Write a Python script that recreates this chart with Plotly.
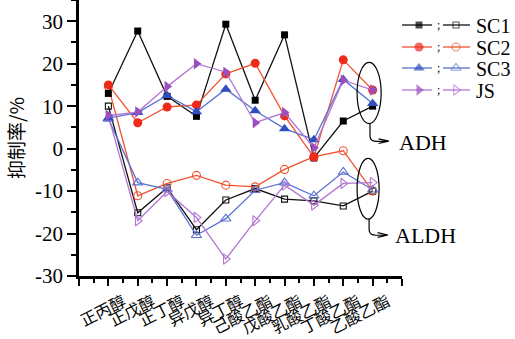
import plotly.graph_objects as go

categories = ["正丙醇", "正戊醇", "正丁醇", "异戊醇", "异丁醇",
              "己酸乙酯", "戊酸乙酯", "乳酸乙酯", "丁酸乙酯", "乙酸乙酯"]
series_names = ["SC1", "SC2", "SC3", "JS"]

# ADH inhibition (filled markers)
adh_sc1 = [13.0, 27.7, 12.3, 7.6, 29.3, 11.4, 26.8, -2.2, 6.5, 10.0]
adh_sc2 = [15.0, 6.1, 9.8, 10.3, 17.6, 20.1, 7.7, -2.0, 20.9, 13.8]
adh_sc3 = [7.2, 8.5, 12.5, 8.7, 14.0, 8.9, 4.7, 2.1, 16.3, 10.6]
adh_js = [7.8, 8.6, 14.6, 20.0, 18.0, 6.1, 8.5, 0.2, 16.1, 13.8]

# ALDH inhibition (open markers)
aldh_sc1 = [10.0, -15.1, -9.2, -19.1, -12.1, -9.4, -11.9, -12.3, -13.5, -10.0]
aldh_sc2 = [14.6, -11.1, -8.2, -6.3, -8.6, -9.0, -4.9, -1.9, -0.5, -10.0]
aldh_sc3 = [7.0, -8.0, -9.6, -20.4, -16.5, -9.8, -8.0, -11.1, -5.5, -9.7]
aldh_js = [7.7, -17.0, -10.1, -16.2, -26.0, -17.0, -8.6, -13.3, -8.2, -8.0]

y_ticks = [-30, -20, -10, 0, 10, 20, 30]

adh = [adh_sc1, adh_sc2, adh_sc3, adh_js]
aldh = [aldh_sc1, aldh_sc2, aldh_sc3, aldh_js]

line_colors = ["#111111", "#F0522E", "#5A72D0", "#B276D2"]
marker_colors = ["#000000", "#EE2A1B", "#2F4FBF", "#9B4FBF"]
filled_symbols = ["square", "circle", "triangle-up", "triangle-right"]
open_symbols = ["square-open", "circle-open", "triangle-up-open", "triangle-right-open"]
marker_sizes = [7, 9, 10, 10]

x_pos = list(range(1, len(categories) + 1))

SERIF = "Liberation Serif, Times New Roman, serif"
CJK = "Noto Sans CJK SC, sans-serif"

fig = go.Figure()

for k in range(len(series_names)):
    fig.add_trace(go.Scatter(
        x=x_pos, y=aldh[k], mode="lines+markers",
        line=dict(color=line_colors[k], width=1.3),
        marker=dict(symbol=open_symbols[k], size=marker_sizes[k] - 1,
                    color=line_colors[k], line=dict(width=1.1, color=line_colors[k])),
        showlegend=False, cliponaxis=False))
for k in range(len(series_names)):
    fig.add_trace(go.Scatter(
        x=x_pos, y=adh[k], mode="lines+markers",
        line=dict(color=line_colors[k], width=1.3),
        marker=dict(symbol=filled_symbols[k], size=marker_sizes[k],
                    color=marker_colors[k], line=dict(width=0)),
        showlegend=False, cliponaxis=False))

# custom legend drawn in an inset axis (pixel-like units)
leg_rows = [25, 47, 68, 90]
for k in range(len(series_names)):
    yr = leg_rows[k]
    fig.add_trace(go.Scatter(
        x=[0, 17, 30], y=[yr, yr, yr], xaxis="x2", yaxis="y2",
        mode="lines+markers",
        line=dict(color=line_colors[k], width=1.3),
        marker=dict(symbol=filled_symbols[k], size=[0, marker_sizes[k], 0],
                    color=marker_colors[k], line=dict(width=0)),
        showlegend=False, hoverinfo="skip"))
    fig.add_trace(go.Scatter(
        x=[41, 54, 68], y=[yr, yr, yr], xaxis="x2", yaxis="y2",
        mode="lines+markers",
        line=dict(color=line_colors[k], width=1.3),
        marker=dict(symbol=open_symbols[k], size=[0, marker_sizes[k] - 1, 0],
                    color=line_colors[k], line=dict(width=1.1, color=line_colors[k])),
        showlegend=False, hoverinfo="skip"))
    fig.add_annotation(x=36, y=yr, xref="x2", yref="y2", text=";", showarrow=False,
                       font=dict(family=SERIF, size=12, color="#000"))
    fig.add_annotation(x=72, y=yr + 1, xref="x2", yref="y2", text=series_names[k],
                       showarrow=False, xanchor="left", yanchor="middle",
                       font=dict(family=SERIF, size=20, color="#000"))

# ellipses and connectors
fig.add_shape(type="circle", xref="x", yref="y", x0=9.47, x1=10.29, y0=5.9, y1=20.3,
              line=dict(color="#000", width=1.2))
fig.add_shape(type="circle", xref="x", yref="y", x0=9.47, x1=10.22, y0=-16.6, y1=-2.3,
              line=dict(color="#000", width=1.2))
fig.add_shape(type="path", xref="x", yref="y",
              path="M 9.91,5.9 L 9.91,3.0 Q 9.91,1.7 10.15,1.7 L 10.5,1.7 M 10.2,2.3 L 10.55,1.75 L 10.2,1.2",
              line=dict(color="#000", width=1.2))
fig.add_shape(type="path", xref="x", yref="y",
              path="M 9.88,-16.6 L 9.88,-19.1 Q 9.88,-20.4 10.12,-20.4 L 10.47,-20.4 M 10.17,-19.8 L 10.52,-20.35 L 10.17,-20.9",
              line=dict(color="#000", width=1.2))
fig.add_annotation(x=10.82, y=1.4, xref="x", yref="y", text="ADH", showarrow=False,
                   xanchor="left", font=dict(family=SERIF, size=22, color="#000"))
fig.add_annotation(x=10.68, y=-20.5, xref="x", yref="y", text="ALDH", showarrow=False,
                   xanchor="left", font=dict(family=SERIF, size=22, color="#000"))

plot_w = 323.0
paper_w = 515 - 79

fig.update_layout(
    width=515, height=339,
    margin=dict(l=79, r=0, t=0, b=63, autoexpand=False),
    paper_bgcolor="white", plot_bgcolor="white",
    font=dict(family=SERIF, color="#000"),
    xaxis=dict(
        domain=[0, plot_w / paper_w],
        range=[0, len(categories) + 1],
        automargin=False,
        tickmode="array",
        tickvals=list(range(0, len(categories) + 2)),
        ticktext=[""] + categories + [""],
        tickangle=-27,
        tickfont=dict(family=CJK, size=16, color="#000"),
        ticklabelshift=15, ticklabelstandoff=1,
        ticks="outside", ticklen=7, tickwidth=2, tickcolor="#000",
        showline=True, linecolor="#000", linewidth=2.5,
        showgrid=False, zeroline=False,
        minor=dict(dtick=0.5, tick0=0, ticks="outside", ticklen=4, tickwidth=1.5,
                   tickcolor="#000", showgrid=False),
    ),
    yaxis=dict(
        range=[-30, 35],
        automargin=False,
        tickmode="array", tickvals=y_ticks,
        ticktext=[str(v) for v in y_ticks],
        tickfont=dict(family=SERIF, size=21, color="#000"),
        ticks="outside", ticklen=9, tickwidth=2, tickcolor="#000",
        showline=True, linecolor="#000", linewidth=2.5,
        showgrid=False, zeroline=False,
        minor=dict(dtick=5, tick0=0, ticks="outside", ticklen=5, tickwidth=1.5,
                   tickcolor="#000", showgrid=False),
        title=dict(text="抑制率/%", font=dict(family=CJK, size=19, color="#000"), standoff=6),
    ),
    xaxis2=dict(domain=[(402 - 79) / paper_w, 1.0], range=[0, 113], anchor="y2",
                visible=False, fixedrange=True),
    yaxis2=dict(domain=[1 - 100 / 276, 1 - 10 / 276], range=[100, 10], anchor="x2",
                visible=False, fixedrange=True),
)

fig.write_html("out.html")
